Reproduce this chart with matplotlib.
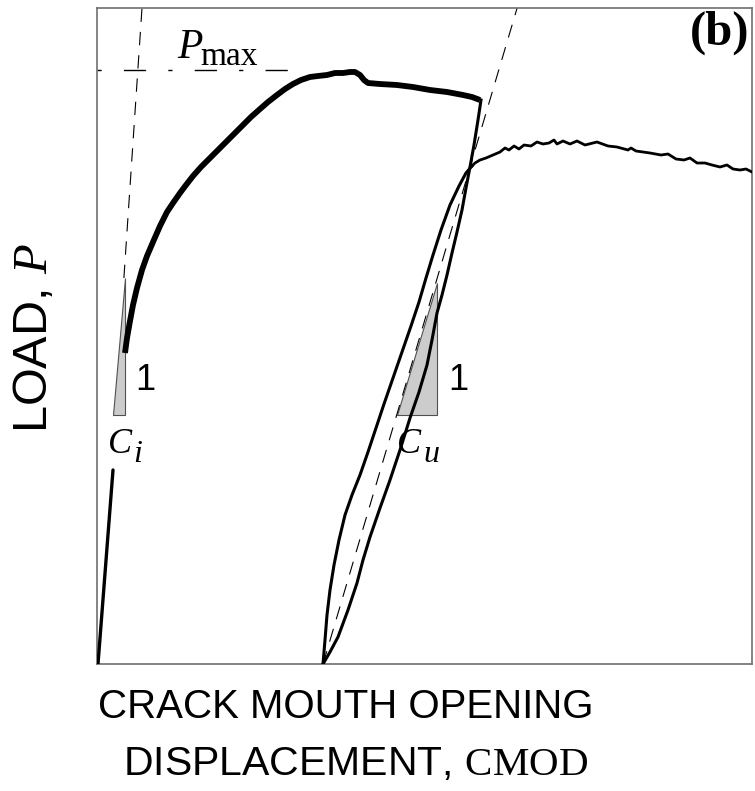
import matplotlib
matplotlib.use("Agg")
import matplotlib.pyplot as plt
import numpy as np

plt.rcParams['mathtext.fontset'] = 'custom'
plt.rcParams['mathtext.rm'] = 'Liberation Serif'
plt.rcParams['mathtext.it'] = 'Liberation Serif:italic'
plt.rcParams['mathtext.bf'] = 'Liberation Serif:bold'

# ---- data (arbitrary units) ----
cmod_initial = [0.01, 0.16]
load_initial = [0.00, 1.94]

cmod_envelope = [0.28, 0.30, 0.33, 0.36, 0.40, 0.45, 0.50, 0.56, 0.63, 0.70, 0.76, 0.83,
                 0.89, 0.96, 1.04, 1.13, 1.21, 1.30, 1.38, 1.46, 1.54, 1.63, 1.71, 1.80,
                 1.88, 1.96, 2.04, 2.13, 2.21, 2.30, 2.38, 2.46, 2.53, 2.58, 2.63, 2.67,
                 2.71, 2.83, 3.00, 3.16, 3.33, 3.50, 3.66, 3.75, 3.83]
load_envelope = [3.11, 3.26, 3.43, 3.59, 3.76, 3.94, 4.08, 4.22, 4.38, 4.52, 4.61, 4.71,
                 4.79, 4.88, 4.97, 5.06, 5.14, 5.23, 5.31, 5.39, 5.47, 5.55, 5.62, 5.69,
                 5.75, 5.80, 5.84, 5.87, 5.88, 5.89, 5.91, 5.91, 5.92, 5.92, 5.89, 5.84,
                 5.81, 5.80, 5.79, 5.77, 5.74, 5.72, 5.69, 5.67, 5.64]

cmod_unload = [3.84, 3.81, 3.77, 3.73, 3.69, 3.65, 3.60, 3.55, 3.50, 3.45, 3.40, 3.35, 3.30,
               3.22, 3.13, 3.03, 2.93, 2.83, 2.73, 2.66, 2.60, 2.51, 2.41, 2.33, 2.26]
load_unload = [5.64, 5.44, 5.19, 4.97, 4.76, 4.54, 4.32, 4.11, 3.89, 3.69, 3.51, 3.24, 2.99,
               2.72, 2.46, 2.14, 1.84, 1.56, 1.27, 1.04, 0.81, 0.54, 0.27, 0.12, 0.00]

cmod_reload = [2.26, 2.28, 2.30, 2.33, 2.37, 2.42, 2.48, 2.55, 2.63, 2.71, 2.79, 2.87, 2.96,
               3.05, 3.14, 3.22, 3.29, 3.36, 3.44, 3.53, 3.62, 3.69, 3.75]
load_reload = [0.00, 0.24, 0.49, 0.74, 0.99, 1.24, 1.49, 1.69, 1.89, 2.12, 2.36, 2.60, 2.86,
               3.12, 3.38, 3.62, 3.86, 4.09, 4.34, 4.59, 4.78, 4.91, 4.98]

cmod_post = [3.75, 3.78, 3.83, 3.89, 3.96, 4.03, 4.08, 4.12, 4.17, 4.22, 4.27, 4.34, 4.40,
             4.46, 4.52, 4.57, 4.60, 4.66, 4.73, 4.80, 4.88, 5.00, 5.11, 5.20, 5.31, 5.34,
             5.39, 5.53, 5.64, 5.71, 5.79, 5.87, 5.93, 6.00, 6.08, 6.15, 6.23, 6.30, 6.36,
             6.43, 6.49, 6.55]
load_post = [4.98, 5.01, 5.04, 5.06, 5.09, 5.12, 5.16, 5.14, 5.18, 5.15, 5.19, 5.18, 5.22,
             5.20, 5.21, 5.24, 5.20, 5.23, 5.20, 5.23, 5.19, 5.22, 5.18, 5.17, 5.14, 5.16,
             5.13, 5.11, 5.09, 5.10, 5.05, 5.04, 5.06, 5.01, 5.01, 4.99, 4.97, 4.99, 4.95,
             4.94, 4.95, 4.92]

p_max = 5.94
p_max_cmod_end = 1.93

ci_line_cmod = [0.01, 0.45]
ci_line_load = [0.00, 6.56]
ci_visible_from = 3.86

cu_line_cmod = [2.26, 4.21]
cu_line_load = [0.00, 6.59]

tri_ci_cmod = [0.16, 0.28, 0.28]
tri_ci_load = [2.49, 2.49, 3.86]
tri_cu_cmod = [3.00, 3.40, 3.40]
tri_cu_load = [2.49, 2.49, 3.81]

# ---- figure ----
fig = plt.figure(figsize=(7.55, 7.91), dpi=100)
ax = fig.add_axes([97/755, 1-664/791, 655/755, 656/791])
ax.set_xlim(0, 6.55)
ax.set_ylim(0, 6.56)
ax.set_xticks([])
ax.set_yticks([])
for s in ax.spines.values():
    s.set_color('#707070')
    s.set_linewidth(1.2)

# triangles
ax.fill(tri_ci_cmod, tri_ci_load, facecolor='#cccccc', edgecolor='#505050', lw=0.8, zorder=1)
ax.fill(tri_cu_cmod, tri_cu_load, facecolor='#cccccc', edgecolor='#505050', lw=0.8, zorder=1)

# compliance lines (dashed)
ci_x0 = np.interp(ci_visible_from, ci_line_load, ci_line_cmod)
ax.plot([ci_x0, ci_line_cmod[1]], [ci_visible_from, ci_line_load[1]], color='black',
        lw=0.8, dashes=(12, 9), zorder=2)
ax.plot(cu_line_cmod, cu_line_load, color='black', lw=0.8, dashes=(12, 9), zorder=2)

# Pmax line
ax.plot([0, p_max_cmod_end], [p_max, p_max], color='black', lw=1.0,
        dashes=(3, 16, 16, 16), zorder=2)

# curves
ax.plot(cmod_initial, load_initial, color='black', lw=2.4, solid_capstyle='round', zorder=3)
ax.plot(cmod_envelope, load_envelope, color='black', lw=4.2, solid_joinstyle='round',
        solid_capstyle='butt', zorder=3)
ax.plot(cmod_unload, load_unload, color='black', lw=2.2, solid_joinstyle='round', zorder=3)
ax.plot(cmod_reload, load_reload, color='black', lw=2.2, solid_joinstyle='round', zorder=3)
ax.plot(cmod_post, load_post, color='black', lw=2.0, solid_joinstyle='round', zorder=3)

# labels inside
serif = 'Liberation Serif'
ax.text(0.80, 6.06, 'P', fontfamily=serif, fontstyle='italic', fontsize=30,
        ha='left', va='baseline')
ax.text(1.03, 5.99, 'max', fontfamily=serif, fontsize=24, ha='left', va='baseline')

ax.text(0.11, 2.11, 'C', fontfamily=serif, fontstyle='italic', fontsize=26,
        ha='left', va='baseline')
ax.text(0.36, 2.02, 'i', fontfamily=serif, fontstyle='italic', fontsize=23,
        ha='left', va='baseline')
ax.text(3.00, 2.11, 'C', fontfamily=serif, fontstyle='italic', fontsize=26,
        ha='left', va='baseline')
ax.text(3.26, 2.02, 'u', fontfamily=serif, fontstyle='italic', fontsize=23,
        ha='left', va='baseline')

ax.text(0.38, 2.74, '1', fontfamily='Liberation Sans', fontsize=26, ha='left', va='baseline')
ax.text(3.51, 2.74, '1', fontfamily='Liberation Sans', fontsize=26, ha='left', va='baseline')

ax.text(749/755, 1-11/791, '(b)', transform=fig.transFigure, fontfamily=serif,
        fontweight='bold', fontsize=35, ha='right', va='top')

# axis labels
fig.text(346/755, 1-718/791, 'CRACK MOUTH OPENING', fontfamily='Liberation Sans',
         fontsize=29, ha='center', va='baseline')
fig.text(356/755, 1-775/791, r'DISPLACEMENT, $\mathrm{CMOD}$', fontfamily='Liberation Sans',
         fontsize=29.5, ha='center', va='baseline')
fig.text(35/755, 1-338/791, r'LOAD, $P$', fontfamily='Liberation Sans', fontsize=35,
         rotation=90, ha='center', va='center')

fig.savefig('out.png', dpi=100)
